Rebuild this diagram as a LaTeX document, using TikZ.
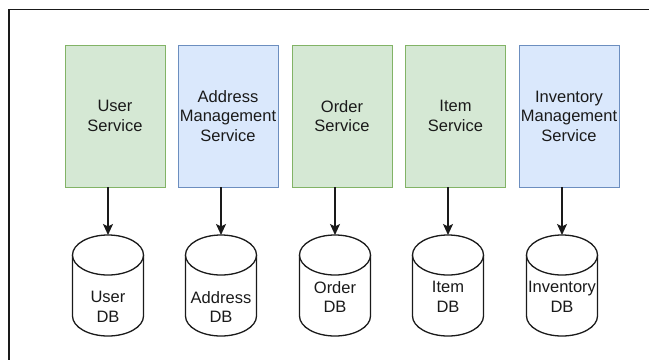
\documentclass[tikz,border=0pt]{standalone}
\usepackage{fontspec}
\setmainfont{Liberation Sans}
\usetikzlibrary{arrows.meta}
\definecolor{gfill}{HTML}{D5E8D4}
\definecolor{gline}{HTML}{82B366}
\definecolor{bfill}{HTML}{DAE8FC}
\definecolor{bline}{HTML}{6C8EBF}
\definecolor{ink}{HTML}{1A1A1A}
\tikzset{
  svc/.style={rectangle, draw=#1line, fill=#1fill, line width=0.8pt,
    minimum width=100pt, minimum height=142pt, inner sep=0pt,
    align=center, font=\fontsize{16.5}{19.5}\selectfont, text=ink},
  dblabel/.style={align=center, inner sep=0pt, font=\fontsize{16.5}{19.5}\selectfont, text=ink},
  cylline/.style={draw=ink, fill=white, line width=1.3pt},
  conn/.style={draw=ink, line width=1.4pt, -{Stealth[length=11pt,width=10pt,inset=2.5pt]}},
}
\newcommand{\dbcyl}[2]{% #1 = x centre, #2 = name
  \fill[white] (#1-35.5,255) -- (#1-35.5,316) arc[start angle=180,end angle=360,x radius=35.5pt,y radius=20pt] -- (#1+35.5,255) -- cycle;
  \draw[cylline] (#1-35.5,255) -- (#1-35.5,316) arc[start angle=180,end angle=360,x radius=35.5pt,y radius=20pt] -- (#1+35.5,255);
  \draw[cylline] (#1,255) ellipse[x radius=35.5pt,y radius=20pt];
  \coordinate (#2top) at (#1,235);
}
\begin{document}
\begin{tikzpicture}[x=1pt,y=-1pt]
\useasboundingbox (0,0) rectangle (649,360);
\fill[white] (0,0) rectangle (649,360);
% outer frame
\draw[ink, line width=1.3pt] (649,9.5) -- (9,9.5) -- (9,360);

% services
\node[svc=g] (s1) at (115,116) {User\\Service};
\node[svc=b] (s2) at (228,116) {Address\\Management\\Service};
\node[svc=g] (s3) at (342,116) {Order\\Service};
\node[svc=g] (s4) at (455.5,116) {Item\\Service};
\node[svc=b] (s5) at (569,116) {Inventory\\Management\\Service};

% databases
\dbcyl{108}{d1}
\dbcyl{221}{d2}
\dbcyl{335}{d3}
\dbcyl{448}{d4}
\dbcyl{562}{d5}

\node[dblabel] (l1) at (108,307) {User\\DB};
\node[dblabel] (l2) at (221,307) {Address\\DB};
\node[dblabel] (l3) at (335,297) {Order\\DB};
\node[dblabel] (l4) at (448,297) {Item\\DB};
\node[dblabel] (l5) at (562,297) {Inventory\\DB};

% connectors
\draw[conn] ([xshift=-7pt]s1.south) -- (d1top);
\draw[conn] ([xshift=-7pt]s2.south) -- (d2top);
\draw[conn] ([xshift=-7pt]s3.south) -- (d3top);
\draw[conn] ([xshift=-7.5pt]s4.south) -- (d4top);
\draw[conn] ([xshift=-7pt]s5.south) -- (d5top);
\end{tikzpicture}
\end{document}
